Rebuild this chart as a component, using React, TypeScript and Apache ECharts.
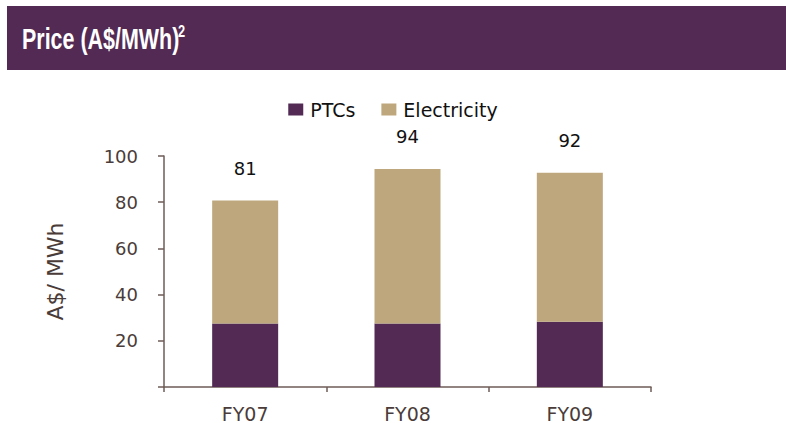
import React, { useEffect, useRef } from "react";
import * as echarts from "echarts";

const categories = ["FY07", "FY08", "FY09"];
const ptcValues = [27.5, 27.5, 28.3];
const electricityValues = [53.2, 66.9, 64.4];
const totalLabels = ["81", "94", "92"];
const yTicks = [0, 20, 40, 60, 80, 100];

const PURPLE = "#522a54";
const TAN = "#bea77d";
const AXIS = "#6e5c57";
const TEXT = "#4a3c39";
const FONT = "'DejaVu Sans', 'Liberation Sans', Arial, sans-serif";
const TITLE_FONT = "bold 29px 'Liberation Sans', Arial, sans-serif";

export default function App() {
  const ref = useRef<HTMLDivElement>(null);
  useEffect(() => {
    if (!ref.current) return;
    const chart = echarts.init(ref.current, null, { renderer: "svg" });
    chart.setOption({
      animation: false,
      backgroundColor: "#ffffff",
      textStyle: { fontFamily: FONT },
      graphic: [
        { type: "rect", x: 7, y: 6, shape: { width: 779, height: 64 }, style: { fill: PURPLE }, z: 0 },
        {
          type: "text",
          x: 22,
          y: 24,
          scaleX: 0.74,
          style: { text: "Price (A$/MWh)", fill: "#ffffff", font: TITLE_FONT },
          z: 1,
        },
        {
          type: "text",
          x: 178,
          y: 23,
          scaleX: 0.8,
          style: { text: "2", fill: "#ffffff", font: "bold 16px 'Liberation Sans', Arial, sans-serif" },
          z: 1,
        },
      ],
      legend: {
        top: 95,
        left: "center",
        itemWidth: 15,
        itemHeight: 12,
        itemGap: 26,
        icon: "rect",
        textStyle: { fontSize: 19, color: "#111111", fontFamily: FONT, padding: [0, 0, 0, 2] },
        data: ["PTCs", "Electricity"],
      },
      grid: { left: 164, right: 135, top: 156, bottom: 34 },
      xAxis: {
        type: "category",
        data: categories,
        axisLine: { lineStyle: { color: AXIS, width: 1.5 } },
        axisTick: { show: true, length: 5, lineStyle: { color: AXIS, width: 1.5 } },
        axisLabel: { fontSize: 19, color: TEXT, margin: 17, fontFamily: FONT },
      },
      yAxis: {
        type: "value",
        min: 0,
        max: 100,
        interval: 20,
        name: "A$/ MWh",
        nameLocation: "middle",
        nameRotate: 90,
        nameGap: 98,
        nameTextStyle: { fontSize: 22, color: TEXT, fontFamily: FONT },
        splitLine: { show: false },
        axisLine: { show: true, lineStyle: { color: AXIS, width: 1.5 } },
        axisTick: { show: true, length: 6, lineStyle: { color: AXIS, width: 1.5 } },
        axisLabel: {
          fontSize: 18,
          color: TEXT,
          margin: 26,
          fontFamily: FONT,
          formatter: (v: number) => (yTicks.includes(v) && v !== 0 ? String(v) : ""),
        },
      },
      series: [
        {
          name: "PTCs",
          type: "bar",
          stack: "total",
          data: ptcValues,
          barWidth: 66,
          itemStyle: { color: PURPLE },
        },
        {
          name: "Electricity",
          type: "bar",
          stack: "total",
          data: electricityValues,
          barWidth: 66,
          itemStyle: { color: TAN },
          label: {
            show: true,
            position: "top",
            distance: 23,
            fontSize: 18,
            color: "#111111",
            fontFamily: FONT,
            formatter: (p: any) => totalLabels[p.dataIndex],
          },
        },
      ],
    });
    return () => chart.dispose();
  }, []);
  return (
    <div
      ref={ref}
      style={{ position: "fixed", left: 0, top: 0, width: 786, height: 423, background: "#fff" }}
    />
  );
}
